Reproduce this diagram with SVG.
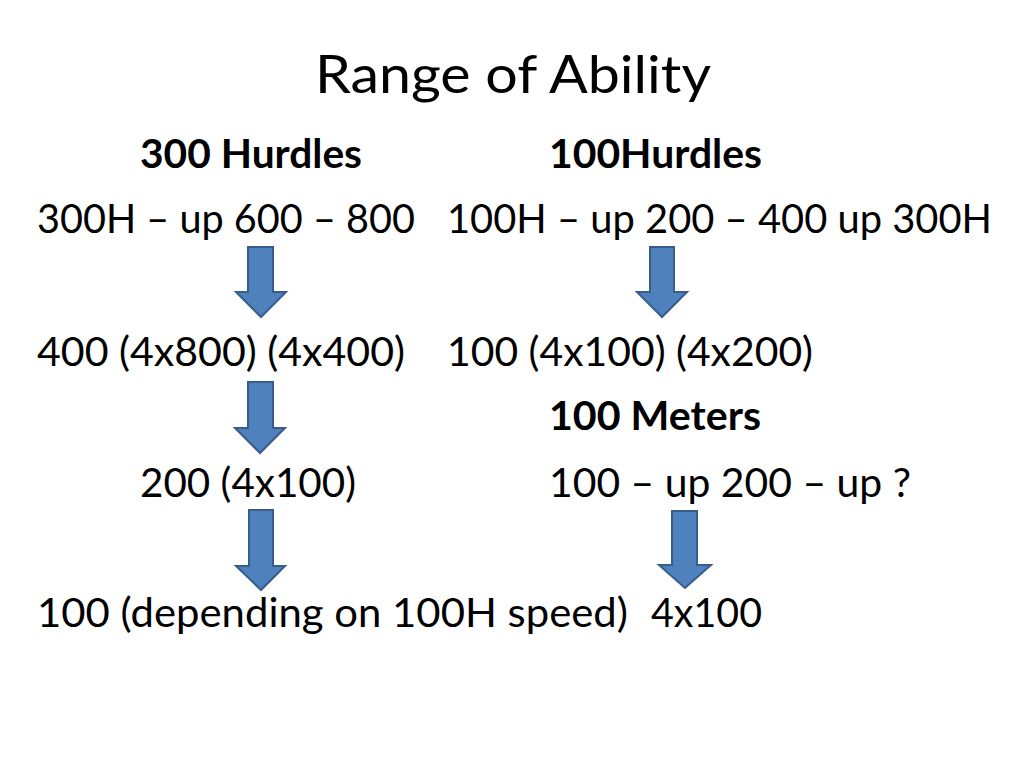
<svg xmlns="http://www.w3.org/2000/svg" width="1024" height="768" viewBox="0 0 1024 768">
<style>
.t{font-family:Lato,"Liberation Sans","DejaVu Sans",sans-serif;font-size:40px;fill:#000}
.b{font-weight:bold}
.title{font-family:Lato,"Liberation Sans","DejaVu Sans",sans-serif;font-size:53px;fill:#000}
.arr{fill:#4F81BD;stroke:#385D8A;stroke-width:2;stroke-linejoin:miter}
</style>
<rect width="1024" height="768" fill="#fff"/>
<g id="title"><text class="title" x="315" y="93" textLength="396" lengthAdjust="spacingAndGlyphs">Range of Ability</text></g>
<g id="h300"><text class="t b" x="140" y="168" textLength="222" lengthAdjust="spacingAndGlyphs">300 Hurdles</text></g>
<g id="h100"><text class="t b" x="549" y="168" textLength="213" lengthAdjust="spacingAndGlyphs">100Hurdles</text></g>
<g id="n300H"><text class="t" x="37" y="233" textLength="378" lengthAdjust="spacingAndGlyphs">300H – up 600 – 800</text></g>
<g id="n100H"><text class="t" x="447" y="233" textLength="545" lengthAdjust="spacingAndGlyphs">100H – up 200 – 400 up 300H</text></g>
<g id="n400"><text class="t" x="37" y="366" textLength="368" lengthAdjust="spacingAndGlyphs">400 (4x800) (4x400)</text></g>
<g id="n100r"><text class="t" x="447" y="366" textLength="366" lengthAdjust="spacingAndGlyphs">100 (4x100) (4x200)</text></g>
<g id="h100m"><text class="t b" x="549" y="430" textLength="212" lengthAdjust="spacingAndGlyphs">100 Meters</text></g>
<g id="n200"><text class="t" x="140" y="497" textLength="216" lengthAdjust="spacingAndGlyphs">200 (4x100)</text></g>
<g id="n100m"><text class="t" x="549" y="497" textLength="362" lengthAdjust="spacingAndGlyphs">100 – up 200 – up ?</text></g>
<g id="n100d"><text class="t" x="37" y="627" textLength="591" lengthAdjust="spacingAndGlyphs">100 (depending on 100H speed)</text></g>
<g id="n4x100"><text class="t" x="651" y="627" textLength="111" lengthAdjust="spacingAndGlyphs">4x100</text></g>
<g id="connectors">
<polygon class="arr" points="248,247 273,247 273,292 286,292 261,317 236,292 248,292"/>
<polygon class="arr" points="650,247 674,247 674,292 687,292 662,317 637,292 650,292"/>
<polygon class="arr" points="248,382 273,382 273,428 285,428 260,453 235,428 248,428"/>
<polygon class="arr" points="249,510 273,510 273,566 285,566 261,590 236,566 249,566"/>
<polygon class="arr" points="672,511 697,511 697,565 711,565 685,588 659,565 672,565"/>
</g>
</svg>
